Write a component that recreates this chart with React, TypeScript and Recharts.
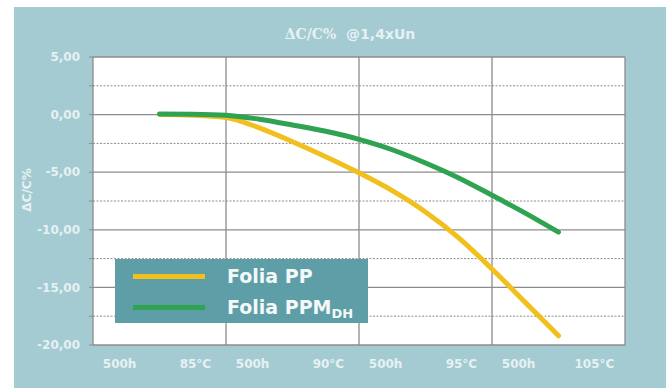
import React from "react";
import { LineChart, Line, XAxis, YAxis, CartesianGrid, ReferenceLine } from "recharts";

// x is measured in grid columns (0..4), one column per test step
const xSteps = [0.5, 0.75, 1, 1.25, 1.5, 1.75, 2, 2.25, 2.5, 2.75, 3, 3.25, 3.5];
const foliaPP = [0, -0.05, -0.25, -1.15, -2.35, -3.65, -5.05, -6.6, -8.45, -10.7, -13.4, -16.3, -19.2];
const foliaPPM = [0.05, 0.03, -0.05, -0.4, -0.9, -1.45, -2.15, -3.05, -4.2, -5.5, -7.0, -8.55, -10.2];

const gridColumns = [0, 1, 2, 3, 4];
const xLabelPos = [0.2, 0.77, 1.2, 1.77, 2.2, 2.77, 3.2, 3.77];
const xLabels = ["500h", "85°C", "500h", "90°C", "500h", "95°C", "500h", "105°C"];
const yTicks = [-20, -17.5, -15, -12.5, -10, -7.5, -5, -2.5, 0, 2.5, 5];

const data = xSteps.map((x, i) => ({ x, pp: foliaPP[i], ppm: foliaPPM[i] }));

const PANEL = "#a3cbd1";
const LIGHT = "#e6f1f3";
const YELLOW = "#f2c01e";
const GREEN = "#2fa352";
const GRID = "#8c8c8c";

const fmtY = (v: number) => (v % 5 === 0 ? v.toFixed(2).replace(".", ",") : "");

// solid lines every 5, dashed ones in between
const HLine = (p: any) => (
  <line
    x1={p.x1}
    x2={p.x2}
    y1={p.y1}
    y2={p.y2}
    stroke={GRID}
    strokeWidth={p.index % 2 === 1 ? 1 : 1.3}
    strokeDasharray={p.index % 2 === 1 ? "2 1.5" : undefined}
  />
);

const LegendBox = () => (
  <div
    style={{
      position: "absolute",
      left: 101,
      top: 252,
      width: 253,
      height: 64,
      background: "#5e9fa7",
      fontFamily: "DejaVu Sans, Verdana, sans-serif",
      fontWeight: "bold",
      fontSize: 19,
      color: "#f4f8f8",
    }}
  >
    <div style={{ position: "absolute", left: 18, top: 15, width: 72, height: 5, background: YELLOW }} />
    <div style={{ position: "absolute", left: 18, top: 46, width: 72, height: 5, background: GREEN }} />
    <div style={{ position: "absolute", left: 112, top: 5, lineHeight: "24px" }}>Folia PP</div>
    <div style={{ position: "absolute", left: 112, top: 36, lineHeight: "24px", whiteSpace: "nowrap" }}>
      Folia PPM<sub style={{ fontSize: 13, verticalAlign: "-4px" }}>DH</sub>
    </div>
  </div>
);

const YLabel = () => {
  const cx = 13;
  const cy = 183;
  return (
    <text
      x={cx}
      y={cy}
      transform={`rotate(-90, ${cx}, ${cy})`}
      textAnchor="middle"
      dominantBaseline="central"
      fill={LIGHT}
      fontSize={12}
      fontWeight="bold"
      fontFamily="DejaVu Sans, sans-serif"
    >
      ΔC/C%
    </text>
  );
};

export default function App() {
  return (
    <div style={{ position: "absolute", left: 0, top: 0, width: 666, height: 388, background: "#fff" }}>
      <div style={{ position: "absolute", left: 14, top: 7, width: 652, height: 381, background: PANEL }}>
        <div
          style={{
            position: "absolute",
            left: 0,
            width: 672,
            top: 19,
            textAlign: "center",
            color: LIGHT,
            fontSize: 14,
            fontWeight: "bold",
            whiteSpace: "pre",
          }}
        >
          <span style={{ fontFamily: "DejaVu Serif, serif" }}>ΔC/C%</span>
          <span style={{ fontFamily: "DejaVu Sans, sans-serif" }}>{"  @1,4xUn"}</span>
        </div>
        <LineChart width={652} height={381} data={data} margin={{ top: 50, right: 41, left: 0, bottom: 0 }}>
          <CartesianGrid fill="#ffffff" vertical={false} horizontal={HLine} />
          {gridColumns.map((c) => (
            <ReferenceLine key={c} x={c} stroke={GRID} strokeWidth={1.3} />
          ))}
          <XAxis
            dataKey="x"
            type="number"
            domain={[0, 4]}
            ticks={xLabelPos}
            tickFormatter={(v: number) => xLabels[xLabelPos.indexOf(v)]}
            axisLine={false}
            tickLine={false}
            tickSize={0}
            tickMargin={14}
            height={43}
            interval={0}
            tick={{ fill: LIGHT, fontSize: 12, fontWeight: "bold", fontFamily: "DejaVu Sans, sans-serif" }}
          />
          <YAxis
            type="number"
            domain={[-20, 5]}
            ticks={yTicks}
            interval={0}
            tickFormatter={fmtY}
            width={79}
            axisLine={false}
            tickLine={{ stroke: GRID }}
            tickSize={4}
            tickMargin={9}
            tick={{ fill: LIGHT, fontSize: 12, fontWeight: "bold", fontFamily: "DejaVu Sans, sans-serif" }}
            label={<YLabel />}
          />
          <Line
            dataKey="pp"
            type="monotone"
            stroke={YELLOW}
            strokeWidth={5}
            strokeLinecap="round"
            dot={false}
            isAnimationActive={false}
          />
          <Line
            dataKey="ppm"
            type="monotone"
            stroke={GREEN}
            strokeWidth={5}
            strokeLinecap="round"
            dot={false}
            isAnimationActive={false}
          />
        </LineChart>
        <LegendBox />
      </div>
    </div>
  );
}
